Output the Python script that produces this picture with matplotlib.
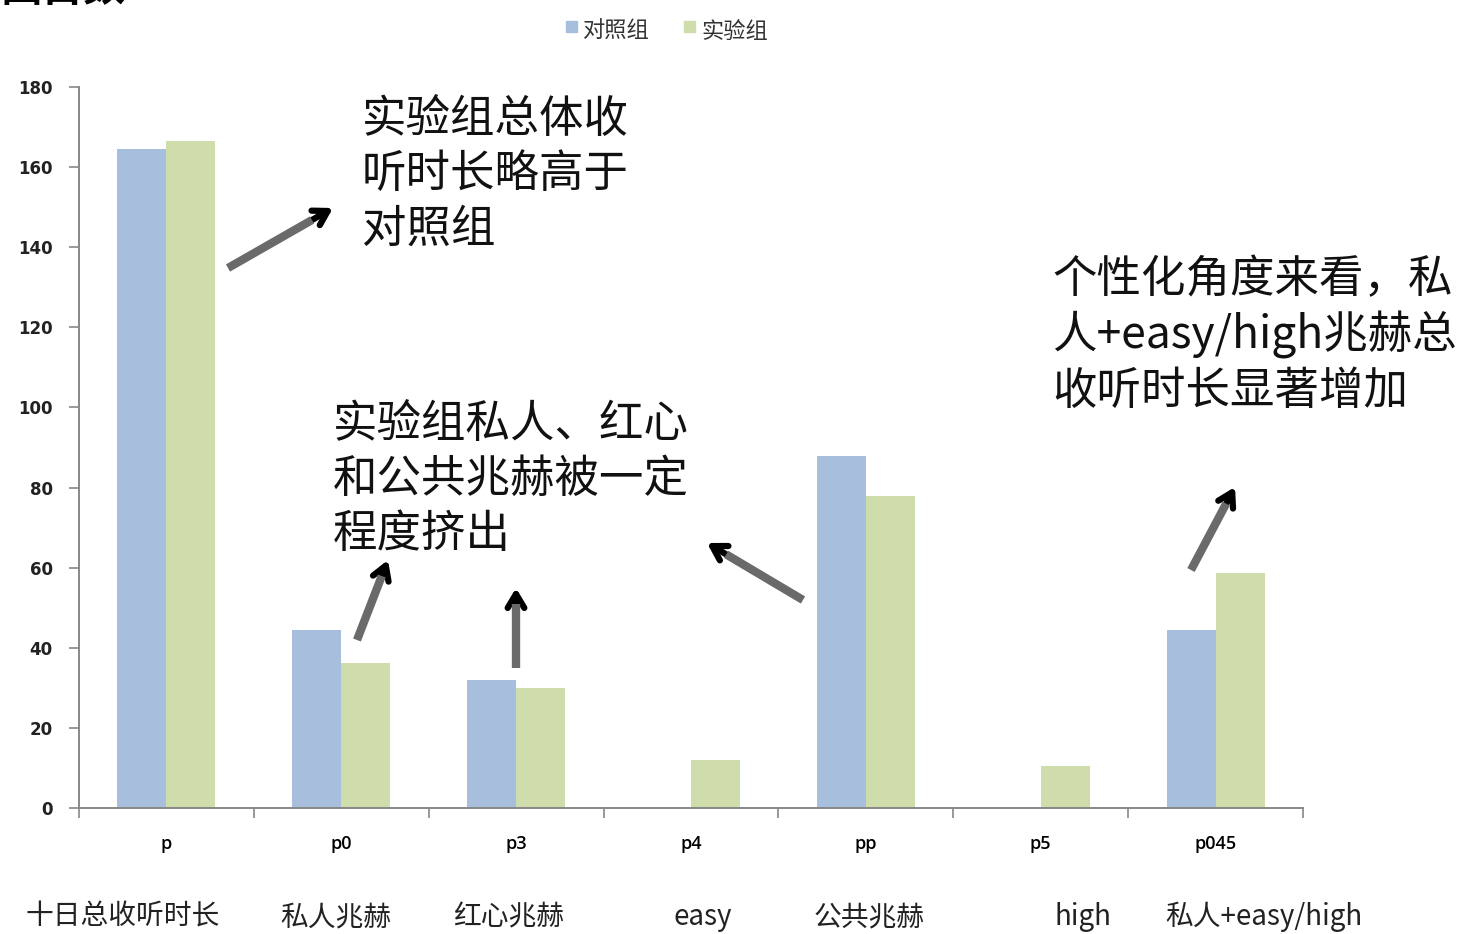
import matplotlib
matplotlib.use("Agg")

import matplotlib.pyplot as plt
import numpy as np
from matplotlib.patches import Rectangle

plt.rcParams["font.family"] = ["Noto Sans CJK SC", "DejaVu Sans"]

cats = ["p", "p0", "p3", "p4", "pp", "p5", "p045"]
names = ["十日总收听时长", "私人兆赫", "红心兆赫", "easy", "公共兆赫", "high", "私人+easy/high"]
ctrl = [164.5, 44.4, 32.0, 0, 87.9, 0, 44.4]
expt = [166.5, 36.2, 30.0, 12.0, 77.9, 10.5, 58.7]
series = ["对照组", "实验组"]
colors = ["#A7BEDD", "#CFDCAB"]

W, H = 1467, 934
fig = plt.figure(figsize=(W / 100, H / 100), dpi=100)
ax = fig.add_axes([79 / W, 1 - 808 / H, (1303 - 79) / W, (808 - 87) / H])

x = np.arange(len(cats))
bw = 0.28
ax.bar(x - bw / 2, ctrl, bw, color=colors[0], linewidth=0)
ax.bar(x + bw / 2, expt, bw, color=colors[1], linewidth=0)

ax.set_xlim(-0.5, len(cats) - 0.5)
ax.set_ylim(0, 180)
ax.set_yticks(np.arange(0, 181, 20))
ax.set_xticks(np.arange(-0.5, len(cats), 1.0))
ax.set_xticklabels([])
ax.tick_params(axis="y", length=7, width=1.2, color="#888888", labelsize=12, pad=12)
ax.tick_params(axis="x", length=7, width=1.2, color="#888888")
for t in ax.get_yticklabels():
    t.set_fontweight("bold")
    t.set_family("DejaVu Sans")
    t.set_color("#222222")
for s in ["top", "right"]:
    ax.spines[s].set_visible(False)
for s in ["left", "bottom"]:
    ax.spines[s].set_color("#888888")
    ax.spines[s].set_linewidth(1.4)

# short series codes under each group
for i, c in enumerate(cats):
    ax.text(i, -9, c, ha="center", va="center", fontsize=13, family="Open Sans",
            fontweight="semibold")

# descriptive names on a second row
name_px = [123, 336, 509, 703, 869, 1083, 1264]
for px, n in zip(name_px, names):
    fig.text(px / W, 1 - 917 / H, n, ha="center", va="center", fontsize=20, color="#222222")

# legend at the top
lx = [566, 684]
for px, lab, col in zip(lx, series, colors):
    fig.patches.append(Rectangle((px / W, 1 - 32 / H), 11 / W, 11 / H,
                                 transform=fig.transFigure, color=col))
    fig.text((px + 17) / W, 1 - 31 / H, lab, ha="left", va="center", fontsize=16,
             fontweight="medium", color="#333333")

fig.text(0, 1 - 10 / H, "曲目数", ha="left", va="bottom", fontsize=30, fontweight="bold")

notes = [
    (362, 96, "实验组总体收\n听时长略高于\n对照组"),
    (333, 401, "实验组私人、红心\n和公共兆赫被一定\n程度挤出"),
    (1052, 256, "个性化角度来看，私\n人+easy/high兆赫总\n收听时长显著增加"),
]
for px, py, s in notes:
    fig.text(px / W, 1 - py / H, s, ha="left", va="top", fontsize=32,
             linespacing=1.25, color="#111111")


def fxy(p):
    return (p[0] / W, 1 - p[1] / H)


arrows = [
    ((228, 268), (333, 208)),
    ((357, 640), (388, 560)),
    ((516, 668), (516, 588)),
    ((803, 600), (707, 543)),
    ((1191, 570), (1235, 487)),
]
for tail, tip in arrows:
    t = np.array(tail, float)
    h = np.array(tip, float)
    mid = t + 0.8 * (h - t)
    fig.add_artist(plt.Line2D([fxy(t)[0], fxy(mid)[0]], [fxy(t)[1], fxy(mid)[1]],
                              transform=fig.transFigure, color="#6a6a6a", lw=6,
                              solid_capstyle="butt"))
    ax.annotate("", xy=fxy(h), xytext=fxy(mid), xycoords=fig.transFigure,
                textcoords=fig.transFigure,
                arrowprops=dict(arrowstyle="->,head_length=1.0,head_width=0.6",
                                color="black", lw=4.5, shrinkA=0, shrinkB=0))

fig.savefig("out.png", dpi=100)
